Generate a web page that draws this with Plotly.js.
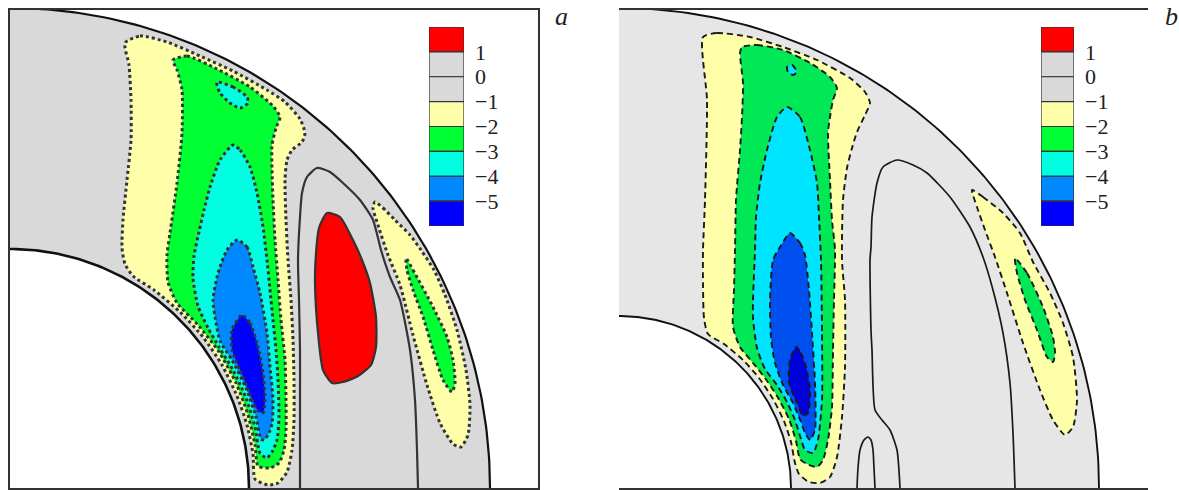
<!DOCTYPE html>
<html><head><meta charset="utf-8">
<script src="https://cdn.plot.ly/plotly-3.0.1.min.js"></script>
<style>html,body{margin:0;padding:0;background:#fff}#chart{width:1179px;height:490px}</style>
</head><body><div id="chart"></div>
<script>
// ---- geometry of the two quarter annuli (units: reference scale, origin on the axis) ----
const R_OUT_A = 480, R_IN_A = 239;
const R_OUT_B = 480, R_IN_B = 172;

// ---- colour scale levels ----
const levelTops = [2, 1, 0, -1, -2, -3, -4, -5];
const levelBottoms = [1, 0, -1, -2, -3, -4, -5, -6];
const tickVals = [1, 0, -1, -2, -3, -4, -5];
const tickText = ['1', '0', '\u22121', '\u22122', '\u22123', '\u22124', '\u22125'];

// ---- panel a: contour boundaries ----
const aYellow = [[115,445],[130,452],[157,446],[190,432],[223,417],[257,398],[275,386],[290,369],[295,355],[292,346],[282,338],[277,328],[275,308],[276,268],[278,228],[281,188],[283,148],[284,108],[284,68],[282,38],[277,16],[268,5],[258,3],[245,9],[243,34],[237,63],[227,92],[212,123],[193,151],[170,176],[144,198],[123,212],[115,224],[112,240],[113,268],[117,308],[121,348],[121,388],[119,423]];
const aGreen = [[163,428],[177,432],[207,419],[240,401],[263,382],[270,371],[266,360],[262,343],[262,318],[263,288],[265,248],[268,208],[271,168],[275,128],[276,88],[276,58],[274,38],[269,25],[260,20],[248,22],[245,43],[238,73],[226,105],[209,136],[188,163],[167,185],[158,206],[157,233],[160,255],[167,305],[172,355],[172,398],[167,418]];
const aCyanTop = [[207,406],[223,401],[237,391],[238,385],[230,380],[220,385],[210,395],[207,403]];
const aCyan = [[223,343],[230,338],[240,321],[247,295],[253,261],[257,228],[260,198],[263,168],[266,138],[268,108],[269,71],[267,48],[262,36],[257,30],[250,35],[245,61],[236,90],[223,118],[209,141],[198,160],[188,182],[183,210],[184,232],[189,256],[194,278],[200,301],[210,328]];
const aBlue = [[227,248],[237,241],[243,221],[250,195],[257,155],[260,121],[263,88],[262,64],[258,53],[254,48],[251,49],[246,71],[236,100],[222,128],[210,147],[206,165],[203,188],[208,215],[217,238]];
const aDarkBlue = [[232,173],[240,165],[247,145],[253,115],[255,88],[253,75],[248,77],[240,94],[231,116],[222,138],[222,158]];
const aRed = [[317,275],[330,271],[343,248],[352,228],[360,205],[366,171],[366,141],[361,123],[348,112],[333,106],[322,105],[313,118],[308,155],[305,205],[306,235],[309,260]];
const aZero = [[290,0],[290,48],[290,88],[290,138],[289,188],[288,228],[290,271],[292,295],[297,311],[307,320],[320,316],[333,305],[350,288],[363,268],[371,238],[380,211],[390,188],[400,138],[405,88],[407,38],[408,0]];
const aRightYellow = [[365,286],[373,280],[385,268],[400,253],[411,238],[424,218],[435,193],[447,158],[456,118],[460,83],[458,53],[451,41],[443,44],[430,65],[417,103],[403,153],[390,203],[378,233],[368,263],[363,280]];
const aRightGreen = [[396,230],[403,218],[423,181],[437,151],[443,128],[445,105],[442,96],[433,108],[423,138],[413,171],[403,198],[397,218]];

// ---- panel b ----
const bYellow = [[84,451],[98,455],[131,451],[164,441],[198,428],[231,410],[246,396],[251,385],[246,373],[238,356],[233,340],[228,320],[224,288],[223,228],[226,188],[226,121],[223,71],[218,31],[211,11],[201,5],[190,6],[180,14],[176,25],[172,46],[165,67],[154,89],[140,110],[124,128],[105,144],[89,154],[85,170],[84,205],[84,238],[86,288],[88,388]];
const bGreen = [[123,441],[138,443],[164,438],[191,425],[211,411],[218,400],[214,388],[211,371],[209,355],[211,308],[213,268],[216,238],[215,188],[214,138],[213,81],[209,48],[204,28],[198,21],[188,24],[181,29],[177,47],[170,69],[158,92],[146,110],[134,125],[121,141],[114,161],[115,198],[116,238],[117,288],[121,338],[123,371],[124,405],[121,435]];
const bCyanTop = [[168,421],[173,423],[178,416],[174,413],[169,416]];
const bCyan = [[168,381],[181,371],[191,338],[198,305],[200,271],[202,228],[203,155],[203,88],[199,48],[194,35],[186,38],[182,49],[176,68],[168,86],[158,103],[146,119],[138,140],[134,170],[134,188],[136,238],[137,271],[141,305],[148,338],[158,371]];
const bBlue = [[171,255],[181,245],[186,233],[190,198],[193,155],[196,105],[196,58],[191,48],[186,55],[182,66],[174,85],[164,103],[156,125],[152,150],[151,188],[154,228],[161,241]];
const bDarkBlue = [[177,141],[182,135],[187,121],[191,98],[189,75],[184,72],[178,85],[170,105],[171,128]];
const bZeroBig = [[281,0],[278,38],[271,58],[263,68],[256,78],[253,138],[252,158],[251,228],[252,241],[253,271],[258,305],[264,321],[278,328],[294,323],[308,315],[331,291],[351,261],[364,231],[374,198],[384,155],[391,105],[394,55],[396,0]];
const bZeroSmall = [[238,0],[239,20],[241,38],[245,48],[249,51],[252,48],[254,38],[255,20],[256,0]];
const bRightYellow = [[353,298],[364,291],[384,275],[401,255],[414,226],[431,195],[444,165],[454,131],[458,88],[454,61],[446,53],[434,68],[421,98],[404,145],[388,195],[376,231],[366,258],[358,281]];
const bRightGreen = [[396,230],[408,215],[424,181],[434,151],[436,135],[434,126],[428,131],[418,158],[406,188],[398,215]];

// ---- styles ----
const colA = {gray:'#d9d9d9', yellow:'#ffffaa', green:'#00ff33', cyan:'#00ffe0', blue:'#0088ff', dark:'#0000ff', red:'#ff0000'};
const colB = {gray:'#e6e6e6', yellow:'#ffffaa', green:'#00e855', cyan:'#00e5ff', blue:'#0050f0', dark:'#0000d8'};
const cbColors = ['#ff0000','#d9d9d9','#d9d9d9','#ffffaa','#00ff33','#00ffe0','#0088ff','#0000ff'];
const SERIF = "'Liberation Serif', 'Times New Roman', Times, serif";
const dotA = {color:'#333', width:3, dash:'3px,3px', shape:'spline', smoothing:0.6};
const solidA = {color:'#333', width:2.2, shape:'spline', smoothing:0.6};
const dashB = {color:'#1a1a1a', width:1.9, dash:'6px,4px', shape:'spline', smoothing:0.6};
const solidB = {color:'#1a1a1a', width:1.7, shape:'spline', smoothing:0.6};

const X = p => p.map(q => q[0]);
const Y = p => p.map(q => q[1]);
const closed = p => p.concat([p[0]]);

function band(p, ax, color){
  const c = closed(p);
  return {type:'scatter', mode:'lines', x:X(c), y:Y(c), xaxis:ax[0], yaxis:ax[1],
    fill:'toself', fillcolor:color, line:{width:0, color:color, shape:'spline', smoothing:0.6}, hoverinfo:'skip'};
}
function edge(p, ax, style, close){
  const c = close ? closed(p) : p;
  return {type:'scatter', mode:'lines', x:X(c), y:Y(c), xaxis:ax[0], yaxis:ax[1], line:style, hoverinfo:'skip'};
}
function arc(r, a0, a1){
  const xs = [], ys = [], n = 120;
  for (let i = 0; i <= n; i++){
    const t = (a0 + (a1 - a0) * i / n) * Math.PI / 180;
    xs.push(r * Math.cos(t)); ys.push(r * Math.sin(t));
  }
  return [xs, ys];
}
function annulus(rin, rout, ax, color){
  const o = arc(rout, 0, 90), i = arc(rin, 90, 0);
  return {type:'scatter', mode:'lines', x:o[0].concat(i[0]), y:o[1].concat(i[1]), xaxis:ax[0], yaxis:ax[1],
    fill:'toself', fillcolor:color, line:{width:0}, hoverinfo:'skip'};
}
function arcLine(r, ax, w){
  const a = arc(r, 0, 90);
  return {type:'scatter', mode:'lines', x:a[0], y:a[1], xaxis:ax[0], yaxis:ax[1], line:{color:'#111', width:w}, hoverinfo:'skip'};
}

const A = ['x','y'], B = ['x2','y2'];
const traces = [];

// panel a
traces.push(annulus(R_IN_A, R_OUT_A, A, colA.gray));
const aBands = [[aYellow,colA.yellow],[aGreen,colA.green],[aCyanTop,colA.cyan],[aCyan,colA.cyan],[aBlue,colA.blue],[aDarkBlue,colA.dark],[aRightYellow,colA.yellow],[aRightGreen,colA.green],[aRed,colA.red]];
aBands.forEach(b => traces.push(band(b[0], A, b[1])));
[aYellow,aGreen,aCyanTop,aCyan,aBlue,aDarkBlue,aRightYellow,aRightGreen].forEach(p => traces.push(edge(p, A, dotA, true)));
traces.push(edge(aRed, A, solidA, true));
traces.push(edge(aZero, A, solidA, false));
traces.push(arcLine(R_OUT_A, A, 2.2));
traces.push(arcLine(R_IN_A, A, 2.6));

// panel b
traces.push(annulus(R_IN_B, R_OUT_B, B, colB.gray));
const bBands = [[bYellow,colB.yellow],[bGreen,colB.green],[bCyanTop,colB.cyan],[bCyan,colB.cyan],[bBlue,colB.blue],[bDarkBlue,colB.dark],[bRightYellow,colB.yellow],[bRightGreen,colB.green]];
bBands.forEach(b => traces.push(band(b[0], B, b[1])));
[bYellow,bGreen,bCyanTop,bCyan,bBlue,bDarkBlue,bRightYellow,bRightGreen].forEach(p => traces.push(edge(p, B, dashB, true)));
traces.push(edge(bZeroBig, B, solidB, false));
traces.push(edge(bZeroSmall, B, solidB, false));
traces.push(arcLine(R_OUT_B, B, 1.9));
traces.push(arcLine(R_IN_B, B, 1.9));

// colour bars
function colorBar(ax){
  return {type:'bar', x:levelTops.map(() => 0), y:levelTops.map((t, i) => t - levelBottoms[i]), base:levelBottoms,
    width:1, xaxis:ax[0], yaxis:ax[1], marker:{color:cbColors, line:{color:'#333', width:1.2}}, hoverinfo:'skip'};
}
traces.push(colorBar(['x3','y3']));
traces.push(colorBar(['x4','y4']));

const W = 1179, H = 490;
const frame = {showgrid:false, zeroline:false, showticklabels:false, ticks:'', showline:true, mirror:true, linecolor:'#333', linewidth:2, fixedrange:true};
const cbx = {showgrid:false, zeroline:false, showticklabels:false, ticks:'', showline:false, range:[-0.5,0.5], fixedrange:true};
const cby = {showgrid:false, zeroline:false, showline:false, range:[-6,2], side:'right', tickmode:'array', tickvals:tickVals, ticktext:tickText,
  ticks:'', ticklabelstandoff:10, tickfont:{family:SERIF, size:22, color:'#222'}, fixedrange:true};
const yDom = [2/H, 480/H];

const layout = {
  width:W, height:H, margin:{l:0, r:0, t:0, b:0}, showlegend:false, barmode:'overlay',
  paper_bgcolor:'#fff', plot_bgcolor:'rgba(0,0,0,0)', hovermode:false,
  xaxis: Object.assign({}, frame, {domain:[10/W, 538/W], range:[0,528]}),
  yaxis: Object.assign({}, frame, {domain:yDom, range:[0,478]}),
  xaxis2: Object.assign({}, frame, {domain:[619/W, 1148/W], range:[0,529]}),
  yaxis2: Object.assign({}, frame, {domain:yDom, range:[0,478]}),
  xaxis3: Object.assign({}, cbx, {domain:[429/W, 464/W], anchor:'y3'}),
  yaxis3: Object.assign({}, cby, {domain:[264/H, 463/H], anchor:'x3'}),
  xaxis4: Object.assign({}, cbx, {domain:[1041/W, 1074/W], anchor:'y4'}),
  yaxis4: Object.assign({}, cby, {domain:[264/H, 463/H], anchor:'x4'}),
  annotations:[
    {text:'<i>a</i>', xref:'paper', yref:'paper', x:561/W, y:(H-17)/H, xanchor:'center', yanchor:'middle', showarrow:false,
     font:{family:SERIF, size:26, color:'#222'}},
    {text:'<i>b</i>', xref:'paper', yref:'paper', x:1171/W, y:(H-17)/H, xanchor:'center', yanchor:'middle', showarrow:false,
     font:{family:SERIF, size:26, color:'#222'}}
  ]
};

Plotly.newPlot('chart', traces, layout, {staticPlot:true, displayModeBar:false});
</script>
</body></html>
